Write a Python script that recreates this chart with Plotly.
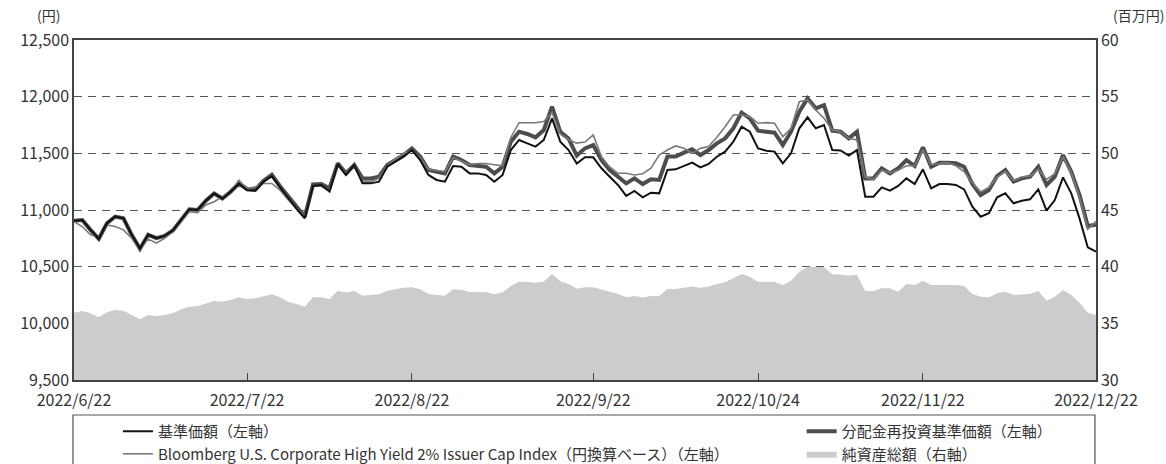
import pandas as pd
import plotly.graph_objects as go

# ---- categories: Japanese business days 2022/6/22 - 2022/12/22 ----
jp_holidays = ["2022-07-18", "2022-08-11", "2022-09-19", "2022-09-23",
               "2022-10-10", "2022-11-03", "2022-11-23"]
bdays = [d for d in pd.bdate_range("2022-06-22", "2022-12-22")
         if d.strftime("%Y-%m-%d") not in jp_holidays]
dates = [f"{d.year}/{d.month}/{d.day}" for d in bdays]

tick_labels = ["2022/6/22", "2022/7/22", "2022/8/22", "2022/9/22",
               "2022/10/24", "2022/11/22", "2022/12/22"]

# ---- series values ----
nav = [10906, 10912, 10825, 10746, 10883, 10942, 10927, 10781, 10658, 10781,
       10751, 10772, 10819, 10912, 11006, 11000, 11082, 11146, 11102, 11161,
       11234, 11175, 11170, 11249, 11298, 11200, 11100, 11010, 10927, 11212,
       11220, 11162, 11406, 11309, 11397, 11235, 11235, 11250, 11382, 11426,
       11470, 11529, 11441, 11309, 11265, 11250, 11388, 11382, 11323, 11323,
       11309, 11250, 11309, 11529, 11618, 11588, 11559, 11618, 11809, 11603,
       11529, 11410, 11465, 11465, 11368, 11294, 11221, 11124, 11168, 11112,
       11153, 11147, 11353, 11359, 11388, 11418, 11376, 11406, 11470, 11515,
       11603, 11735, 11691, 11544, 11523, 11515, 11412, 11500, 11721, 11818,
       11721, 11750, 11529, 11526, 11480, 11529, 11118, 11118, 11200, 11171,
       11212, 11279, 11229, 11359, 11191, 11229, 11229, 11221, 11182, 11029,
       10941, 10971, 11112, 11147, 11059, 11082, 11094, 11182, 10994, 11088,
       11288, 11147, 10926, 10671, 10632]

nav_reinvest = [10906, 10912, 10825, 10746, 10883, 10942, 10927, 10781, 10658, 10781,
                10751, 10772, 10819, 10912, 11006, 11000, 11082, 11146, 11102, 11161,
                11234, 11185, 11180, 11259, 11310, 11210, 11120, 11030, 10940, 11225,
                11229, 11191, 11412, 11323, 11397, 11279, 11279, 11294, 11397, 11441,
                11485, 11544, 11471, 11353, 11338, 11323, 11471, 11441, 11397, 11388,
                11382, 11323, 11382, 11603, 11691, 11671, 11641, 11706, 11912, 11690,
                11630, 11480, 11544, 11574, 11441, 11353, 11294, 11235, 11279, 11229,
                11271, 11265, 11471, 11471, 11506, 11535, 11485, 11529, 11588, 11632,
                11721, 11859, 11809, 11700, 11691, 11682, 11574, 11691, 11868, 11985,
                11897, 11926, 11700, 11691, 11632, 11691, 11279, 11279, 11368, 11323,
                11368, 11441, 11388, 11553, 11382, 11418, 11418, 11412, 11382, 11229,
                11132, 11176, 11300, 11353, 11250, 11279, 11294, 11382, 11221, 11294,
                11485, 11338, 11132, 10859, 10870]

index_jpy = [10898, 10854, 10781, 10760, 10868, 10854, 10825, 10751, 10649, 10743,
             10708, 10751, 10810, 10898, 10985, 10977, 11044, 11073, 11117, 11161,
             11263, 11190, 11205, 11234, 11234, 11175, 11088, 11015, 10940, 11210,
             11210, 11170, 11400, 11320, 11390, 11250, 11250, 11280, 11390, 11450,
             11500, 11520, 11460, 11360, 11350, 11340, 11460, 11430, 11400, 11410,
             11410, 11400, 11390, 11640, 11770, 11770, 11770, 11780, 11860, 11670,
             11620, 11590, 11600, 11662, 11470, 11380, 11324, 11324, 11309, 11320,
             11368, 11485, 11529, 11565, 11544, 11500, 11544, 11560, 11641, 11735,
             11838, 11838, 11824, 11765, 11771, 11765, 11647, 11721, 11956, 11971,
             11882, 11809, 11706, 11691, 11632, 11618, 11290, 11270, 11350, 11330,
             11350, 11390, 11390, 11530, 11400, 11410, 11418, 11390, 11340, 11240,
             11160, 11200, 11290, 11340, 11260, 11290, 11300, 11360, 11270, 11320,
             11470, 11330, 11110, 10830, 10900]

net_assets = [35.94, 36.09, 35.88, 35.53, 35.97, 36.18, 36.12, 35.74, 35.35, 35.74,
              35.65, 35.74, 35.88, 36.24, 36.47, 36.53, 36.77, 36.97, 36.91, 37.06,
              37.30, 37.15, 37.21, 37.41, 37.56, 37.30, 36.91, 36.70, 36.47, 37.30,
              37.30, 37.15, 37.88, 37.71, 37.85, 37.44, 37.50, 37.56, 37.88, 38.00,
              38.15, 38.18, 38.00, 37.59, 37.50, 37.44, 38.00, 37.97, 37.77, 37.77,
              37.74, 37.56, 37.74, 38.29, 38.68, 38.68, 38.59, 38.68, 39.35, 38.72,
              38.47, 38.05, 38.18, 38.18, 37.97, 37.77, 37.59, 37.30, 37.41, 37.27,
              37.41, 37.41, 38.03, 38.03, 38.15, 38.24, 38.15, 38.24, 38.47, 38.62,
              38.97, 39.35, 39.12, 38.68, 38.68, 38.68, 38.38, 38.76, 39.56, 40.00,
              40.00, 39.94, 39.32, 39.30, 39.20, 39.29, 37.85, 37.85, 38.09, 38.09,
              37.79, 38.47, 38.38, 38.76, 38.38, 38.38, 38.38, 38.38, 38.30, 37.59,
              37.35, 37.30, 37.65, 37.79, 37.50, 37.56, 37.59, 37.85, 37.00, 37.35,
              37.94, 37.50, 36.82, 35.94, 35.74]

FONT = "Noto Sans CJK JP, Noto Sans, sans-serif"

fig = go.Figure()
fig.add_trace(go.Scatter(
    x=dates, y=net_assets, yaxis="y2", name="純資産総額（右軸）",
    mode="lines", fill="tozeroy", line=dict(width=0, color="#cccccc"),
    fillcolor="#cccccc", legend="legend2", legendrank=2))
fig.add_trace(go.Scatter(
    x=dates, y=nav_reinvest, name="分配金再投資基準価額（左軸）",
    mode="lines", line=dict(width=4, color="#4d4d4d"),
    legend="legend2", legendrank=1))
fig.add_trace(go.Scatter(
    x=dates, y=index_jpy,
    name="Bloomberg U.S. Corporate High Yield 2% Issuer Cap Index（円換算ベース）（左軸）",
    mode="lines", line=dict(width=1.6, color="#7a7a7a"),
    legend="legend", legendrank=2))
fig.add_trace(go.Scatter(
    x=dates, y=nav, name="基準価額（左軸）",
    mode="lines", line=dict(width=2, color="#111111"),
    legend="legend", legendrank=1))

axis_line = "#444444"
legend_common = dict(
    orientation="v", xanchor="left", yanchor="top", traceorder="normal",
    font=dict(size=15, color="#333333"), bgcolor="rgba(0,0,0,0)",
    itemwidth=30, tracegroupgap=0, borderwidth=0)

fig.update_layout(
    width=1166, height=464,
    margin=dict(l=74, r=70, t=40, b=84, autoexpand=False),
    paper_bgcolor="white", plot_bgcolor="white",
    font=dict(family=FONT, size=15, color="#333333"),
    xaxis=dict(
        type="category", range=[0, len(dates) - 1],
        tickvals=tick_labels, ticktext=tick_labels,
        ticks="inside", ticklen=7, tickcolor=axis_line, tickwidth=1,
        ticklabelstandoff=5,
        showline=True, linecolor=axis_line, linewidth=1.5, mirror=True,
        showgrid=False, tickfont=dict(size=16), automargin=False),
    yaxis=dict(
        range=[9500, 12500], dtick=500, tickformat=",",
        showline=True, linecolor=axis_line, linewidth=1.5,
        showgrid=True, gridcolor="#555555", griddash="8px,6px", gridwidth=1,
        ticks="", zeroline=False, tickfont=dict(size=16), automargin=False),
    yaxis2=dict(
        range=[30, 60], dtick=5, overlaying="y", side="right",
        showline=True, linecolor=axis_line, linewidth=1.5,
        showgrid=False, ticks="", zeroline=False, tickfont=dict(size=16),
        automargin=False),
    showlegend=True,
    legend=dict(x=0.043, y=-0.103, **legend_common),
    legend2=dict(x=0.712, y=-0.103, **legend_common),
    shapes=[dict(type="rect", xref="paper", yref="paper",
                 x0=-0.001, x1=0.999, y0=-0.4, y1=-0.103,
                 line=dict(color="#555555", width=1.2))],
    annotations=[
        dict(text="(円)", xref="paper", yref="paper", x=-0.012, y=1.0,
             xanchor="right", yanchor="bottom", yshift=13, showarrow=False,
             font=dict(size=14)),
        dict(text="(百万円)", xref="paper", yref="paper", x=1.0685, y=1.0,
             xanchor="right", yanchor="bottom", yshift=13, showarrow=False,
             font=dict(size=14)),
    ],
)

fig.write_html(
    "out.html",
    config={"displayModeBar": False},
    post_script="document.body.style.margin='0px';document.body.style.padding='0px';")
